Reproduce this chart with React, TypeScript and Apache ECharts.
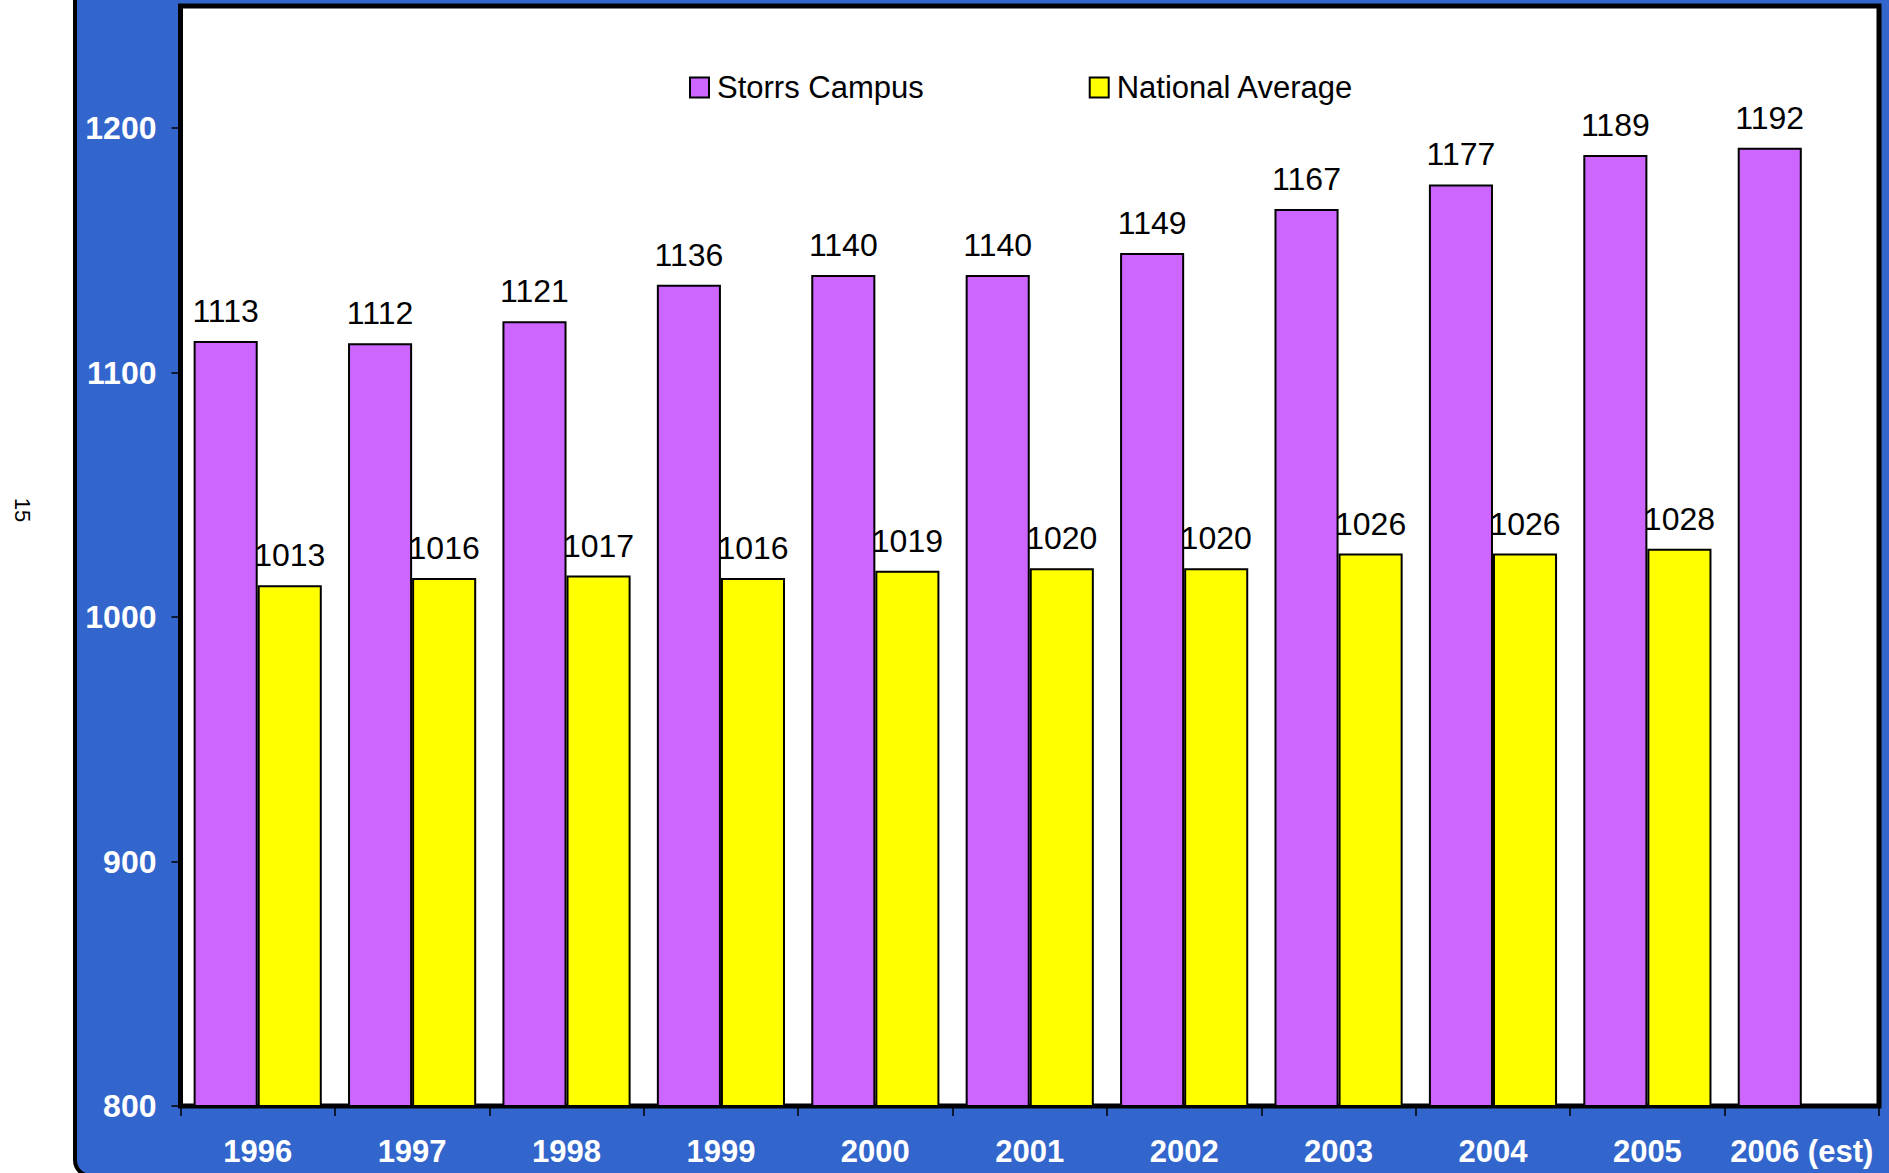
import React, { useEffect, useRef } from "react";
import * as echarts from "echarts";

const categories = ["1996", "1997", "1998", "1999", "2000", "2001", "2002", "2003", "2004", "2005", "2006 (est)"];
const storrsValues = [1113, 1112, 1121, 1136, 1140, 1140, 1149, 1167, 1177, 1189, 1192];
const nationalValues: (number | null)[] = [1013, 1016, 1017, 1016, 1019, 1020, 1020, 1026, 1026, 1028, null];
const seriesNames = ["Storrs Campus", "National Average"];
const pageNumber = "15";

const FONT = "'Liberation Sans', Arial, sans-serif";

export default function App() {
  const ref = useRef<HTMLDivElement>(null);
  useEffect(() => {
    if (!ref.current) return;
    const chart = echarts.init(ref.current, undefined, { renderer: "svg" });
    const labelStyle = {
      show: true,
      position: "top" as const,
      distance: 14,
      color: "#000",
      fontSize: 32,
      fontFamily: FONT,
    };
    chart.setOption({
      animation: false,
      backgroundColor: "#fff",
      textStyle: { fontFamily: FONT },
      graphic: [
        {
          type: "rect",
          z: -10,
          silent: true,
          shape: { x: 75, y: -30, width: 1900, height: 1206, r: 16 },
          style: { fill: "#3366CC", stroke: "#000", lineWidth: 4 },
        },
        {
          type: "text",
          x: 22,
          y: 510,
          rotation: -Math.PI / 2,
          style: {
            text: pageNumber,
            fontSize: 22,
            fontFamily: FONT,
            fill: "#000",
            align: "center",
            verticalAlign: "middle",
          },
        },
      ],
      grid: {
        left: 180.5,
        top: 6,
        right: 10,
        bottom: 67,
        show: true,
        backgroundColor: "#fff",
        borderColor: "#000",
        borderWidth: 5,
        containLabel: false,
      },
      legend: {
        data: seriesNames,
        left: 689,
        top: 72,
        padding: 0,
        icon: "rect",
        itemWidth: 19,
        itemHeight: 20,
        itemGap: 165,
        textStyle: { fontSize: 31, fontFamily: FONT, color: "#000", padding: [0, 0, 0, 3] },
      },
      xAxis: {
        type: "category",
        data: categories,
        axisLine: { show: true, lineStyle: { color: "#000", width: 4 } },
        axisTick: { show: true, length: 10, lineStyle: { color: "#000", width: 1.5 } },
        axisLabel: {
          color: "#fff",
          fontWeight: "bold",
          fontSize: 31,
          fontFamily: FONT,
          margin: 30,
          interval: 0,
        },
        splitLine: { show: false },
      },
      yAxis: {
        type: "value",
        min: 800,
        max: 1250,
        interval: 100,
        axisLine: { show: false },
        axisTick: { show: true, length: 9, lineStyle: { color: "#000", width: 1.5 } },
        axisLabel: {
          color: "#fff",
          fontWeight: "bold",
          fontSize: 32,
          fontFamily: FONT,
          margin: 24,
          showMaxLabel: false,
          formatter: (v: number) => String(v),
        },
        splitLine: { show: false },
      },
      series: [
        {
          name: seriesNames[0],
          type: "bar",
          data: storrsValues,
          barGap: "0%",
          barCategoryGap: "17%",
          itemStyle: { color: "#CC66FF", borderColor: "#000", borderWidth: 2 },
          label: labelStyle,
        },
        {
          name: seriesNames[1],
          type: "bar",
          data: nationalValues,
          barGap: "0%",
          barCategoryGap: "17%",
          itemStyle: { color: "#FFFF00", borderColor: "#000", borderWidth: 2 },
          label: labelStyle,
        },
      ],
    });
    return () => chart.dispose();
  }, []);
  return (
    <div
      ref={ref}
      style={{ position: "fixed", left: 0, top: 0, width: 1889, height: 1173 }}
    />
  );
}
